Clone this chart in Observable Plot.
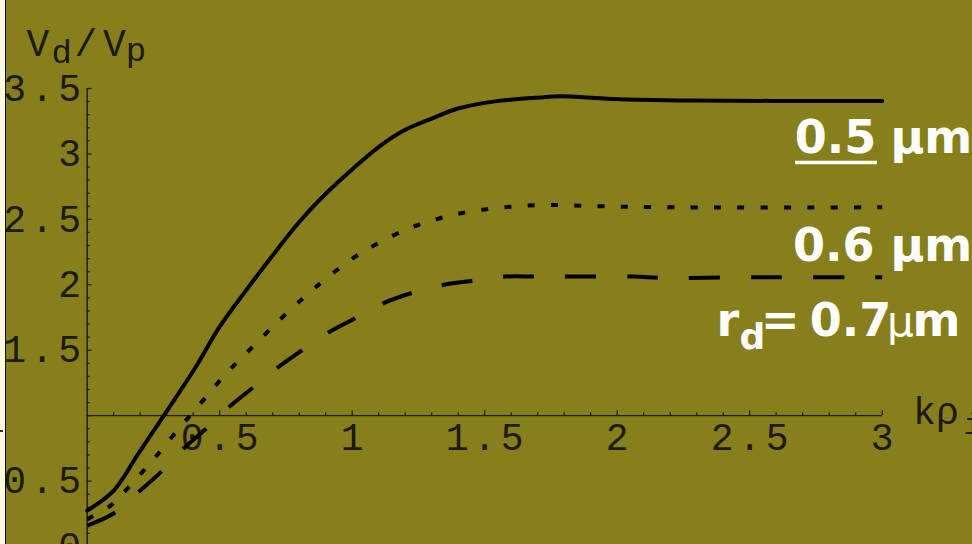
<!DOCTYPE html>
<html><head><meta charset="utf-8">
<script src="https://cdn.jsdelivr.net/npm/d3@7"></script>
<script src="https://cdn.jsdelivr.net/npm/@observablehq/plot@0.6"></script>
<style>
html,body{margin:0;padding:0;background:#867f1b;}
#wrap{position:relative;width:972px;height:544px;overflow:hidden;background:#867f1b;}
#edge{position:absolute;left:0;top:0;width:5px;height:544px;background:#fdfbdc;border-right:1.5px solid #111;}
#nick{position:absolute;left:0;top:430px;width:3px;height:2px;background:#333;}
</style></head><body><div id="wrap"><div id="edge"></div><div id="nick"></div></div>
<script>
// k rho_i values and V_d/V_p values
const k05 = [0, 0.1, 0.19, 0.289, 0.409, 0.5, 0.604, 0.704, 0.805, 0.906, 1.006, 1.107, 1.195, 1.3, 1.396, 1.5, 1.597, 1.7, 1.786, 1.9, 1.987, 2.277, 2.6, 3];
const v05 = [0.274, 0.427, 0.70, 1.0, 1.37, 1.68, 1.969, 2.236, 2.491, 2.707, 2.893, 3.064, 3.179, 3.27, 3.345, 3.39, 3.414, 3.43, 3.44, 3.43, 3.42, 3.408, 3.405, 3.405];
const k06 = [0, 0.088, 0.148, 0.207, 0.262, 0.317, 0.371, 0.428, 0.484, 0.541, 0.604, 0.73, 0.855, 0.994, 1.069, 1.226, 1.396, 1.572, 1.748, 1.937, 2.213, 3];
const v06 = [0.21, 0.312, 0.434, 0.567, 0.694, 0.83, 0.96, 1.094, 1.229, 1.357, 1.484, 1.739, 1.969, 2.19, 2.286, 2.44, 2.541, 2.592, 2.61, 2.6, 2.592, 2.592];
const k07 = [0, 0.107, 0.195, 0.28, 0.362, 0.443, 0.534, 0.619, 0.717, 0.805, 0.906, 1.006, 1.113, 1.226, 1.346, 1.459, 1.578, 1.698, 1.85, 2.063, 2.176, 2.5, 3];
const v07 = [0.159, 0.261, 0.419, 0.572, 0.745, 0.89, 1.064, 1.204, 1.365, 1.492, 1.63, 1.739, 1.855, 1.938, 2.0, 2.032, 2.063, 2.063, 2.063, 2.063, 2.053, 2.058, 2.058];

const xTickLabels = ["0.5", "1", "1.5", "2", "2.5", "3"];
const yTickLabels = ["0", "0.5", "1.5", "2", "2.5", "3", "3.5"];
const radii = ["0.5", "0.6", "0.7"];

const series = [
  {r: radii[0], k: k05, v: v05},
  {r: radii[1], k: k06, v: v06},
  {r: radii[2], k: k07, v: v07}
];
const rows = series.flatMap(s => s.k.map((k, i) => ({r: s.r, k, v: s.v[i]})));

const ML = 86.7, MT = 88;
const X0 = 86.7, X1 = 881.7, Y0 = 546, Y1 = 88;
const px2x = px => (px - X0) / (X1 - X0) * 3;
const py2y = py => (Y0 - py) / (Y0 - Y1) * 3.5;
const ink = "#1b1a06";
const mono = "Liberation Mono";
const sans = "DejaVu Sans";

const xMinor = d3.range(1, 31).filter(i => i % 5 !== 0).map(i => i / 10);
const xMajor = d3.range(5, 31, 5).map(i => i / 10);
const yMinor = d3.range(0, 36).filter(i => i % 5 !== 0).map(i => i / 10);
const yMajor = d3.range(0, 36, 5).map(i => i / 10);

function note(str, px, py, o = {}) {
  return Plot.text([str], {
    frameAnchor: "top-left", dx: px - ML, dy: py - MT,
    text: d => d, textAnchor: "start", lineAnchor: "bottom", ...o
  });
}
const white = {fill: "#ffffff", fontFamily: sans, fontWeight: "bold", fontSize: 46};
const axisFont = {fill: ink, fontFamily: mono, fontSize: 38};

const chart = Plot.plot({
  width: 972, height: 544,
  marginLeft: ML, marginRight: 972 - X1, marginTop: MT, marginBottom: 0,
  x: {domain: [0, 3], range: [X0, X1], axis: null},
  y: {domain: [0, 3.5], range: [Y0, Y1], axis: null},
  style: {background: "transparent", overflow: "visible"},
  marks: [
    // tick labels
    Plot.text(yTickLabels, {x: 0, y: d => +d, text: d => d, textAnchor: "end", lineAnchor: "middle", dx: -1.5, ...axisFont}),
    Plot.text(xTickLabels, {x: d => +d, y: 1, text: d => d, textAnchor: "middle", lineAnchor: "middle", dy: 22.5, dx: 2.3, ...axisFont}),
    // axes
    Plot.ruleY([1], {stroke: ink, strokeWidth: 1.4}),
    Plot.ruleX([0], {y1: 0, y2: 3.5, stroke: ink, strokeWidth: 1.4}),
    Plot.ruleX(xMinor, {x: d => d, y1: 1, y2: 1, insetBottom: 3, stroke: ink, strokeWidth: 1.2}),
    Plot.ruleX(xMajor, {x: d => d, y1: 1, y2: 1, insetBottom: 5, stroke: ink, strokeWidth: 1.2}),
    Plot.ruleY(yMinor, {y: d => d, x1: 0, x2: 0, insetRight: -3, stroke: ink, strokeWidth: 1.2}),
    Plot.ruleY(yMajor, {y: d => d, x1: 0, x2: 0, insetRight: -5, stroke: ink, strokeWidth: 1.2}),
    // curves
    Plot.line(rows.filter(d => d.r === radii[0]), {x: "k", y: "v", stroke: "#000", strokeWidth: 4, curve: "catmull-rom"}),
    Plot.line(rows.filter(d => d.r === radii[1]), {x: "k", y: "v", stroke: "#000", strokeWidth: 4, strokeDasharray: "7,16.3", strokeLinecap: "butt", curve: "catmull-rom"}),
    Plot.line(rows.filter(d => d.r === radii[2]), {x: "k", y: "v", stroke: "#000", strokeWidth: 4, strokeDasharray: "31,31", strokeLinecap: "butt", curve: "catmull-rom"}),
    // axis titles
    note("V", 26, 55, axisFont),
    note("d", 51, 62.7, {...axisFont, fontSize: 34}),
    note("/", 74, 55, axisFont),
    note("V", 102.5, 55, axisFont),
    note("p", 125.3, 60.5, {...axisFont, fontSize: 34}),
    note("k", 912.6, 423, axisFont),
    note("ρ", 935.6, 423, axisFont),
    note("i", 963, 433, {...axisFont, fontSize: 30}),
    // series labels
    note(radii[0], 794.3, 152, white),
    Plot.ruleY([py2y(162)], {x1: px2x(795), x2: px2x(877), stroke: "#ffffff", strokeWidth: 3.5}),
    note("μm", 890, 152, white),
    note(radii[1], 792.6, 260, white),
    note("μm", 890, 260, white),
    note("r", 716, 335, white),
    note("d", 739, 348, {...white, fontSize: 36}),
    note("=", 760.4, 335, white),
    note(radii[2], 809.3, 335, white),
    note("μ", 886.6, 335, {...white, fontWeight: "normal", fontSize: 42}),
    note("m", 912, 335, white)
  ]
});

d3.select(chart).selectAll('g[font-family="' + mono + '"] text')
  .filter(function () { return /^[0-9.]+$/.test(this.textContent); })
  .style("letter-spacing", "4.7px");
document.getElementById("wrap").appendChild(chart);
</script>
</body></html>
